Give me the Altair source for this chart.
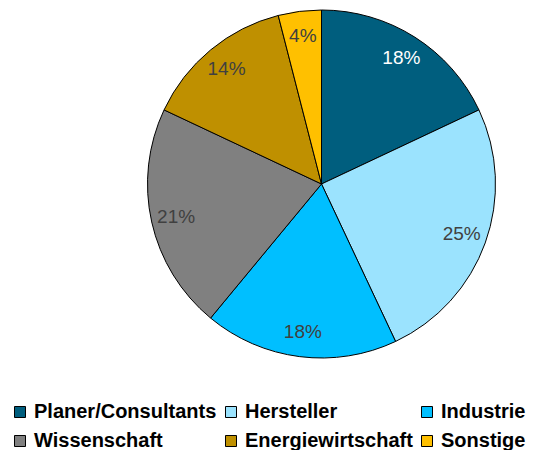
import altair as alt
import pandas as pd

categories = ["Planer/Consultants", "Hersteller", "Industrie", "Wissenschaft", "Energiewirtschaft", "Sonstige"]
values = [18, 25, 18, 21, 14, 4]
labels = ["18%", "25%", "18%", "21%", "14%", "4%"]
colors = ["#005E7E", "#9BE3FE", "#00BFFF", "#808080", "#BF9000", "#FFC000"]
label_colors = ["#FFFFFF", "#404040", "#404040", "#404040", "#404040", "#404040"]

df = pd.DataFrame({
    "cat": categories,
    "val": values,
    "lab": labels,
    "lc": label_colors,
    "idx": list(range(len(categories))),
})

cx, cy = 313.5, 176

base = alt.Chart(df).encode(
    theta=alt.Theta("val:Q", stack=True),
    order=alt.Order("idx:Q", sort="ascending"),
    x=alt.value(cx),
    y=alt.value(cy),
)

pie = base.mark_arc(outerRadius=174, stroke="black", strokeWidth=1).encode(
    color=alt.Color(
        "cat:N",
        scale=alt.Scale(domain=categories, range=colors),
        sort=categories,
        legend=alt.Legend(
            title=None,
            orient="none",
            legendX=2,
            legendY=394,
            direction="horizontal",
            columns=3,
            symbolType="square",
            symbolSize=121,
            symbolStrokeColor="black",
            symbolStrokeWidth=1,
            symbolOpacity=1,
            labelFont="Liberation Sans",
            labelFontWeight="bold",
            labelFontSize=20,
            labelColor="black",
            labelOffset=4,
            labelLimit=400,
            columnPadding=4,
            rowPadding=9,
            padding=0,
        ),
    )
)

text = base.mark_text(radius=149, font="Liberation Sans", fontSize=19).encode(
    text="lab:N",
    color=alt.Color("lc:N", scale=None),
)

chart = (pie + text).properties(
    width=521,
    height=442,
    autosize=alt.AutoSizeParams(type="none"),
    padding=0,
).configure_view(stroke=None)

chart.save("out.html", embed_options={"renderer": "svg", "actions": False})
